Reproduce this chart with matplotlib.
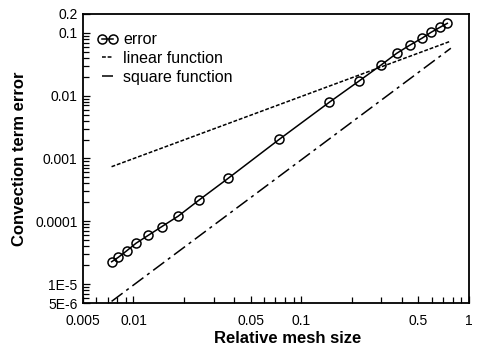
import matplotlib
matplotlib.use('Agg')
import matplotlib.pyplot as plt
from matplotlib.ticker import FixedLocator, LogLocator, NullFormatter

plt.rcParams['font.family'] = ['Liberation Sans', 'DejaVu Sans']

# values
mesh_size = [0.00741, 0.00812, 0.00912, 0.01035, 0.01225, 0.01472, 0.01849,
             0.0246, 0.0367, 0.0740, 0.147, 0.221, 0.298, 0.371, 0.446,
             0.524, 0.594, 0.673, 0.743]
error = [2.27e-5, 2.67e-5, 3.40e-5, 4.47e-5, 5.98e-5, 8.2e-5, 1.21e-4,
         2.18e-4, 4.84e-4, 2.02e-3, 7.85e-3, 0.0171, 0.0305, 0.0473, 0.0642,
         0.0820, 0.102, 0.123, 0.142]

ref_x = [0.0074, 0.78]
linear_y = [7.4e-4, 0.074]
square_y = [5.3e-6, 0.057]

xticks = [0.005, 0.01, 0.05, 0.1, 0.5, 1]
xtick_labels = ['0.005', '0.01', '0.05', '0.1', '0.5', '1']
yticks = [5e-6, 1e-5, 1e-4, 1e-3, 1e-2, 0.1, 0.2]
ytick_labels = ['5E-6', '1E-5', '0.0001', '0.001', '0.01', '0.1', '0.2']

fig = plt.figure(figsize=(4.79, 3.47), dpi=100)
ax = fig.add_axes([0.1733, 0.1268, 0.979 - 0.1733, 0.9597 - 0.1268])

ax.plot(mesh_size, error, color='black', lw=1.1, marker='o', ms=6.5,
        mfc='none', mec='black', mew=1.1, label='error')
ax.plot(ref_x, linear_y, color='black', lw=1.1, ls=(0, (2.5, 1.2)),
        label='linear function')
ax.plot(ref_x, square_y, color='black', lw=1.1, ls=(0, (9, 3, 2, 3)),
        label='square function')

ax.set_xscale('log')
ax.set_yscale('log')
ax.set_xlim(0.005, 1)
ax.set_ylim(5e-6, 0.2)

ax.xaxis.set_major_locator(FixedLocator(xticks))
ax.set_xticklabels(xtick_labels)
ax.yaxis.set_major_locator(FixedLocator(yticks))
ax.set_yticklabels(ytick_labels)
ax.xaxis.set_minor_locator(LogLocator(base=10, subs=range(2, 10)))
ax.yaxis.set_minor_locator(LogLocator(base=10, subs=range(2, 10)))
ax.xaxis.set_minor_formatter(NullFormatter())
ax.yaxis.set_minor_formatter(NullFormatter())

ax.tick_params(which='both', direction='in', top=False, right=False,
               labelsize=10, color='black', width=0.9)
ax.tick_params(which='major', length=5)
ax.tick_params(which='minor', length=4)
ax.tick_params(axis='x', pad=8)
ax.tick_params(axis='y', pad=4)

for s in ax.spines.values():
    s.set_linewidth(1.3)

ax.set_xlabel('Relative mesh size', fontsize=12, fontweight='bold')
ax.xaxis.set_label_coords(0.531, -0.097)
ax.set_ylabel('Convection term error', fontsize=12, fontweight='bold', labelpad=6)

ax.legend(loc='upper left', bbox_to_anchor=(0.036, 0.936), frameon=False,
          fontsize=11.5, handlelength=1.3, numpoints=2, handletextpad=0.35,
          labelspacing=0.22, borderaxespad=0, borderpad=0)

plt.savefig('out.png', dpi=100, facecolor='white')
